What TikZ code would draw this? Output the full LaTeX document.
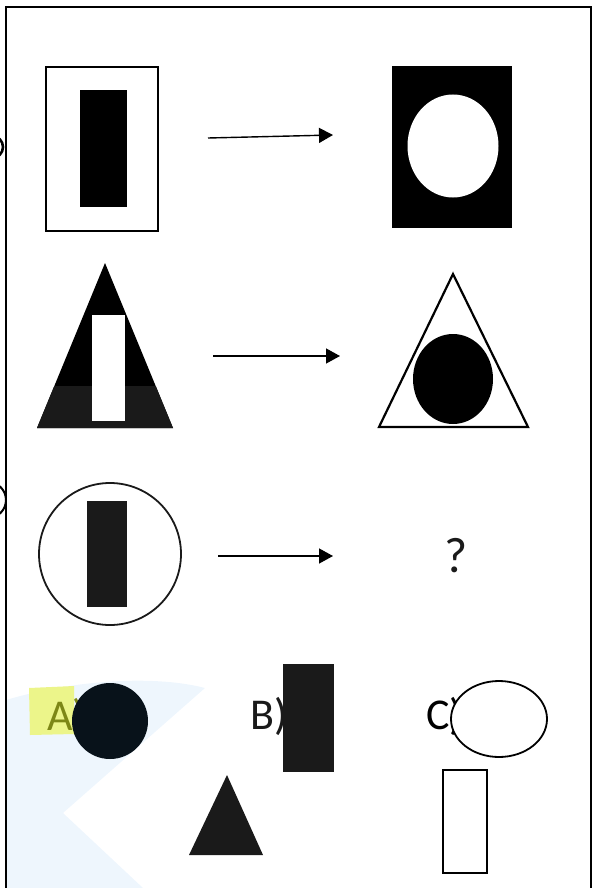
\documentclass[tikz,border=0pt]{standalone}
\usepackage{fontspec}
\setmainfont{Carlito}
\usetikzlibrary{arrows.meta,calc}
\definecolor{inkgray}{RGB}{26,26,26}
\definecolor{navyink}{RGB}{8,18,26}
\definecolor{hilite}{RGB}{236,245,138}
\definecolor{olivetext}{RGB}{125,135,22}
\definecolor{washblue}{RGB}{238,246,253}

\begin{document}
\begin{tikzpicture}[x=0.5pt,y=-0.5pt,
  outline/.style={draw=black, line width=1.1pt, fill=white},
  thinline/.style={draw=inkgray, line width=0.9pt, fill=white},
  arr/.style={-{Triangle[length=7pt,width=7.5pt]}, line width=0.7pt},
  lbl/.style={font=\fontsize{22}{27}\selectfont, inner sep=0pt, anchor=base west}]
\useasboundingbox (0,0) rectangle (592,888);
% faint watermark, lower left
\fill[washblue] (6,700) .. controls (80,678) and (160,676) .. (205,688)
  -- (63,813) -- (143,888) -- (6,888) -- cycle;
% frame
\draw[line width=1.4pt] (6,888) -- (6,7) -- (591,7) -- (591,888);
% cut-off marks at the left edge
\begin{scope}
  \clip (0,0) rectangle (5,888);
  \draw[line width=1.3pt] (-8,147) circle (11);
  \draw[line width=1pt] (-12,500) circle (18);
\end{scope}

% row 1
\draw[outline] (46,67) rectangle (158,231);
\fill[black] (80,90) rectangle (127,207);
\coordinate (r1from) at (208,138);
\coordinate (r1to) at (333,135);
\draw[arr] (r1from) -- (r1to);
\fill[black] (392,66) rectangle (512,228);
\fill[white] (453,146) ellipse [x radius=45.5, y radius=51.5];

% row 2
\fill[black] (105,263) -- (173,428) -- (37,428) -- cycle;
\begin{scope}
  \clip (105,263) -- (173,428) -- (37,428) -- cycle;
  \fill[inkgray] (0,386) rectangle (200,430);
\end{scope}
\fill[white] (92,315) rectangle (125,421);
\coordinate (r2from) at (213,356);
\coordinate (r2to) at (340,356);
\draw[arr] (r2from) -- (r2to);
\draw[outline] (453,274) -- (528,427) -- (379,427) -- cycle;
\fill[black] (453,379) ellipse [x radius=40, y radius=45];

% row 3
\draw[thinline] (110,554) circle (71);
\fill[inkgray] (87,501) rectangle (127,607);
\coordinate (r3from) at (218,556);
\coordinate (r3to) at (333,556);
\draw[arr] (r3from) -- (r3to);
\node[lbl, anchor=base, text=inkgray, font=\fontsize{25}{30}\selectfont] (ask) at (456,572) {?};

% answer choices
\fill[hilite] (29,688) -- (74,686) -- (74,734) -- (30,735) -- cycle;
\node[lbl, text=olivetext] (optA) at (47,730) {A)};
\fill[navyink] (110,721) circle (38);
\node[lbl, text=inkgray] (optB) at (250,729) {B)};
\fill[inkgray] (283,664) rectangle (334,772);
\fill[inkgray] (227,775) -- (263,855) -- (189,855) -- cycle;
\node[lbl, text=black] (optC) at (426,729) {C)};
\draw[outline, line width=0.9pt] (499,719) ellipse [x radius=48, y radius=38];
\draw[outline] (443,770) rectangle (487,873);
\end{tikzpicture}
\end{document}
